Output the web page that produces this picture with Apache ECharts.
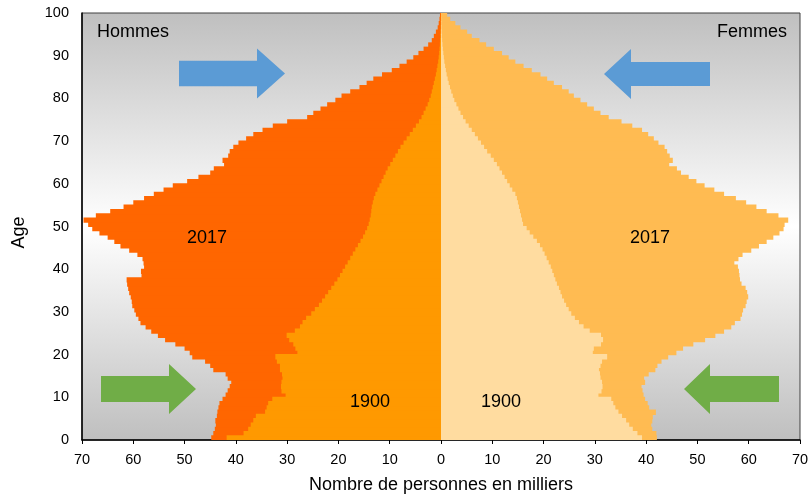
<!DOCTYPE html>
<html><head><meta charset="utf-8">
<script src="https://cdn.jsdelivr.net/npm/echarts@6/dist/echarts.min.js"></script>
<style>html,body{margin:0;padding:0;background:#fff;overflow:hidden}#c{width:809px;height:496px}</style>
</head><body><div id="c"></div>
<script>
// Ages 0..99 (bottom to top)
const ages = Array.from({length:100}, (_, i) => String(i));
const yTicks = [0,10,20,30,40,50,60,70,80,90,100];
const xTicks = [70,60,50,40,30,20,10,0,10,20,30,40,50,60,70];

// Hommes 2017 (milliers)
const men2017 = [44.8,44.4,44.1,43.9,44.0,43.7,43.6,43.4,43.2,42.6,
 42.0,41.6,41.2,40.9,41.6,42.0,44.4,45.0,46.0,48.5,
 49.0,50.0,51.8,53.8,55.2,56.5,57.6,58.6,59.0,59.5,
 59.8,60.2,60.3,60.5,60.8,61.0,61.2,61.3,58.4,58.5,
 57.9,58.0,58.2,59.2,60.8,62.5,63.7,65.0,66.6,68.0,
 68.8,69.7,67.3,64.5,61.9,60.0,57.9,56.0,54.1,52.3,
 49.5,47.3,45.0,44.3,42.3,42.6,41.5,41.2,40.5,39.5,
 38.0,36.6,34.8,32.8,30.0,26.1,24.9,23.5,22.2,20.6,
 19.4,17.7,15.9,14.5,13.2,11.5,9.6,8.1,6.7,5.4,
 4.4,3.4,2.5,1.8,1.4,1.0,0.65,0.45,0.3,0.2];
// Hommes 1900
const men1900 = [41.8,38.5,37.6,37.1,36.6,36.1,34.3,34.0,33.7,32.9,
 30.3,31.1,31.2,31.1,30.9,31.0,31.4,31.4,32.0,32.3,
 28.0,28.4,28.8,29.6,30.1,28.5,27.5,27.0,26.3,25.3,
 24.6,23.8,23.2,22.6,22.0,21.4,20.8,20.2,19.7,19.2,
 18.7,18.2,17.7,17.2,16.7,16.2,15.7,15.2,14.8,14.4,
 14.1,13.9,13.7,13.6,13.5,13.3,13.1,12.8,12.4,12.0,
 11.6,11.2,10.8,10.4,9.9,9.4,8.9,8.4,7.9,7.3,
 6.7,6.1,5.5,4.9,4.3,3.8,3.4,3.0,2.6,2.3,
 2.0,1.8,1.6,1.4,1.2,1.0,0.85,0.7,0.55,0.45,
 0.35,0.28,0.22,0.17,0.12,0.09,0.06,0.04,0.03,0.02];
// Femmes 2017
const women2017 = [42.1,42.0,41.2,41.0,41.2,41.3,41.9,40.6,40.3,39.8,
 39.5,39.3,39.1,39.8,39.6,40.5,41.8,42.2,43.0,44.3,
 45.9,47.2,49.2,51.5,53.5,55.2,56.6,57.3,58.4,58.7,
 58.9,59.4,59.6,59.9,59.7,59.4,58.6,58.3,58.2,58.1,
 57.9,57.2,58.0,58.8,60.5,62.0,63.5,64.8,66.0,66.8,
 67.0,67.7,65.8,63.5,61.5,59.5,57.5,55.2,53.3,51.4,
 49.8,48.3,46.8,46.0,44.5,45.2,44.6,44.1,43.6,42.4,
 41.5,40.4,39.2,37.3,35.2,32.7,31.1,29.8,28.5,27.2,
 25.9,24.9,23.6,22.0,20.7,19.4,17.7,16.1,14.5,13.2,
 11.9,10.3,8.8,7.5,6.0,5.1,3.8,2.8,1.8,1.2];
// Femmes 1900
const women1900 = [39.2,38.3,37.4,36.7,36.1,35.3,34.6,34.0,33.6,33.2,
 30.7,31.3,31.5,31.4,31.1,31.0,30.8,31.1,31.4,32.4,
 29.6,29.8,31.2,31.6,31.2,29.0,27.8,26.9,26.1,25.4,
 24.9,24.4,24.0,23.6,23.3,23.0,22.6,22.3,22.0,21.7,
 21.4,21.0,20.6,20.2,19.8,19.3,18.7,18.0,17.3,16.7,
 16.0,15.8,15.6,15.4,15.2,15.0,14.8,14.5,13.9,13.4,
 12.9,12.4,11.9,11.4,10.9,10.3,9.7,9.0,8.4,7.8,
 7.2,6.6,6.0,5.4,4.8,4.3,3.8,3.4,3.0,2.6,
 2.3,2.0,1.75,1.5,1.3,1.1,0.95,0.8,0.65,0.55,
 0.45,0.36,0.28,0.22,0.16,0.12,0.08,0.05,0.03,0.02];

const chart = echarts.init(document.getElementById('c'), null, {renderer:'canvas'});
const FONT = '"Liberation Sans", Arial, sans-serif';
function barSeries(name, data, color, sign){
  return {
    name, type:'bar', xAxisIndex:0, yAxisIndex:0,
    data: data.map(v => sign*v),
    barGap:'-100%', barWidth:'125%',
    itemStyle:{color},
    emphasis:{disabled:true}, silent:true, animation:false
  };
}
function arrow(x0, x1, xTip, yMid, halfShaft, halfHead, color){
  return {type:'polygon', silent:true, z:100,
    shape:{points:[[x0,yMid-halfShaft],[x1,yMid-halfShaft],[x1,yMid-halfHead],[xTip,yMid],
      [x1,yMid+halfHead],[x1,yMid+halfShaft],[x0,yMid+halfShaft]]},
    style:{fill:color}};
}
function label(text, x, y, align){
  return {type:'text', silent:true, z:100, x, y,
    style:{text, fill:'#000', font:'18px ' + FONT, textAlign:align||'center', textVerticalAlign:'middle'}};
}
chart.setOption({
  animation:false,
  grid:{left:82, right:9, top:13, bottom:56, containLabel:false, outerBoundsMode:'none',
    show:true, borderColor:'#404040', borderWidth:1,
    backgroundColor: new echarts.graphic.LinearGradient(0,0,0,1,[
      {offset:0,color:'#bfbfbf'},{offset:0.5,color:'#ffffff'},{offset:1,color:'#bfbfbf'}])},
  xAxis:{type:'value', min:-70, max:70, interval:10,
    name:'Nombre de personnes en milliers', nameLocation:'middle', nameGap:36,
    nameTextStyle:{fontFamily:FONT, fontSize:18, color:'#000'},
    axisLine:{show:true, lineStyle:{color:'#000', width:1.5}}, axisTick:{show:true, length:4, lineStyle:{color:'#000'}},
    axisLabel:{fontFamily:FONT, fontSize:14.5, color:'#000', margin:12,
      formatter: v => String(xTicks[Math.round((v+70)/10)])},
    splitLine:{show:false}},
  yAxis:[
    {type:'category', data:ages, show:false, boundaryGap:true},
    {type:'value', min:0, max:100, interval:10, position:'left',
     name:'Age', nameLocation:'middle', nameGap:54, nameRotate:90,
     nameTextStyle:{fontFamily:FONT, fontSize:18, color:'#000', padding:[0,12,0,0]},
     axisLine:{show:true, lineStyle:{color:'#000', width:1.5}}, axisTick:{show:false},
     axisLabel:{fontFamily:FONT, fontSize:14.5, color:'#000', margin:13,
       formatter: v => String(yTicks[Math.round(v/10)])},
     splitLine:{show:false}}
  ],
  series:[
    barSeries('Hommes 2017', men2017, '#ff6600', -1),
    barSeries('Hommes 1900', men1900, '#ff9900', -1),
    barSeries('Femmes 2017', women2017, '#ffbb52', 1),
    barSeries('Femmes 1900', women1900, '#ffdca0', 1)
  ],
  graphic:[
    label('Hommes', 97, 32, 'left'),
    label('Femmes', 787, 32, 'right'),
    label('2017', 207, 238),
    label('2017', 650, 238),
    label('1900', 370, 402),
    label('1900', 501, 402),
    arrow(179, 257, 285, 73.5, 12.7, 25, '#5b9bd5'),
    arrow(710, 631, 604, 74, 12, 25, '#5b9bd5'),
    arrow(101, 169, 196, 389, 13, 25, '#70ad47'),
    arrow(779, 710, 684, 389, 13, 25, '#70ad47')
  ]
});
</script></body></html>
